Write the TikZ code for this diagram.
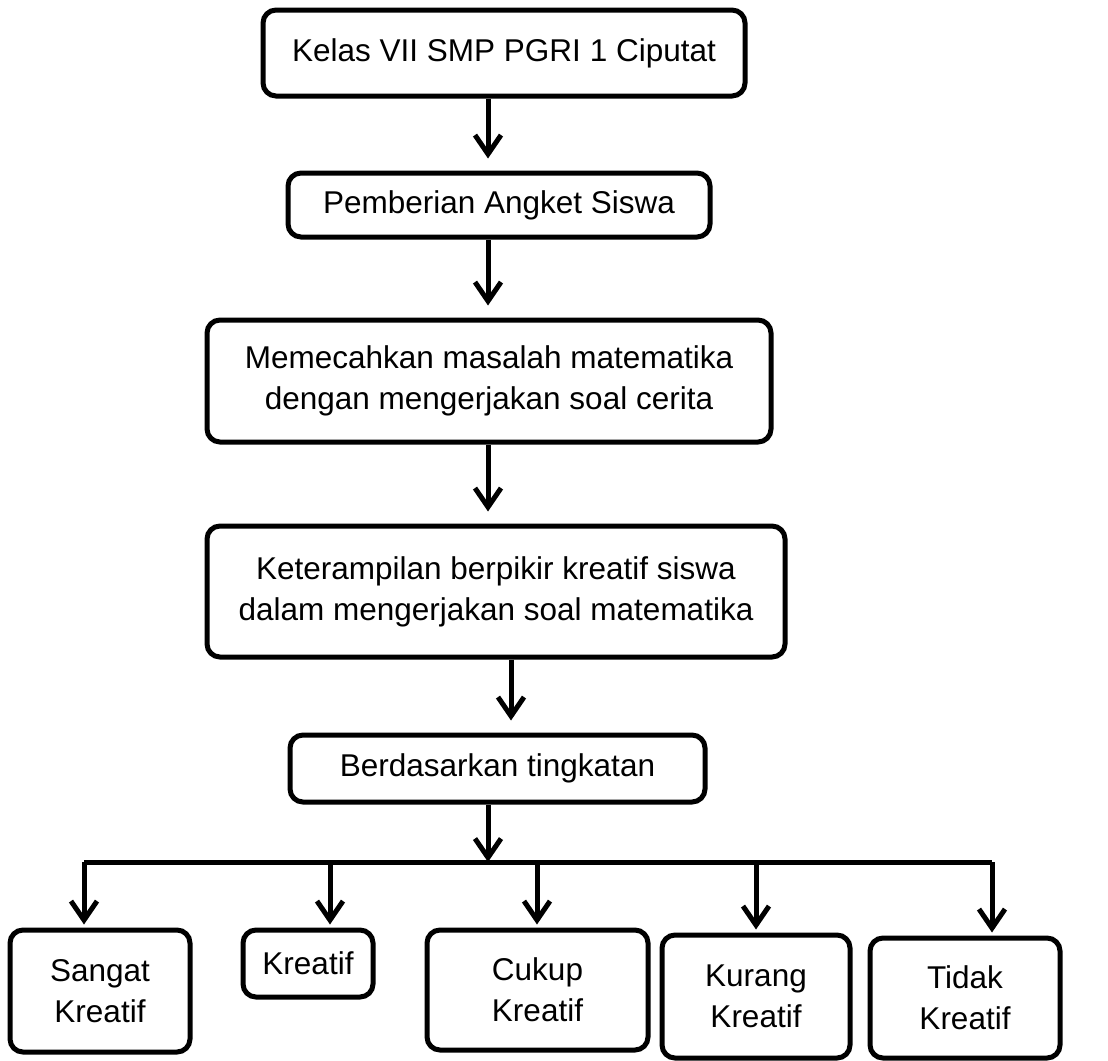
\documentclass[tikz,border=0pt]{standalone}
\usepackage{fontspec}
\setmainfont{Liberation Sans}
\usetikzlibrary{arrows.meta}
\begin{document}
\begin{tikzpicture}[x=1pt,y=-1pt,
  box/.style={draw, line width=5pt, rounded corners=13pt, align=center, inner sep=0pt,
    font=\fontsize{31.5}{41}\selectfont},
  arr/.style={line width=5pt, -{Straight Barb[length=19pt,width=26pt]}},
  barline/.style={line width=5pt}]
\useasboundingbox (0,0) rectangle (1108,1060);
\node[box, minimum width=482pt, minimum height=86pt] (n1) at (504,53) {Kelas VII SMP PGRI 1 Ciputat};
\node[box, minimum width=422pt, minimum height=64pt] (n2) at (499,205) {Pemberian Angket Siswa};
\node[box, minimum width=564pt, minimum height=122pt] (n3) at (489,381) {Memecahkan masalah matematika\\dengan mengerjakan soal cerita};
\node[box, minimum width=578pt, minimum height=131pt] (n4) at (496,591.5) {Keterampilan berpikir kreatif siswa\\dalam mengerjakan soal matematika};
\node[box, minimum width=415pt, minimum height=67pt] (n5) at (497.5,768.5) {Berdasarkan tingkatan};
\node[box, minimum width=180pt, minimum height=122pt] (s1) at (100,991) {Sangat\\Kreatif};
\node[box, minimum width=130pt, minimum height=67pt] (s2) at (308,963.5) {Kreatif};
\node[box, minimum width=221pt, minimum height=120pt] (s3) at (537.5,990) {Cukup\\Kreatif};
\node[box, minimum width=188pt, minimum height=123pt] (s4) at (756,996.5) {Kurang\\Kreatif};
\node[box, minimum width=190pt, minimum height=120pt] (s5) at (965,998) {Tidak\\Kreatif};
\coordinate (cA) at (488,0);
\coordinate (cB) at (511,0);
\draw[arr, shorten >=12pt] (n1.south -| cA) -- (n2.north -| cA);
\draw[arr, shorten >=12pt] (n2.south -| cA) -- (n3.north -| cA);
\draw[arr, shorten >=12pt] (n3.south -| cA) -- (n4.north -| cA);
\draw[arr, shorten >=12pt] (n4.south -| cB) -- (n5.north -| cB);
\coordinate (bj) at (488,862);
\coordinate (bl) at (84,862);
\coordinate (br) at (992,862);
\coordinate (d2) at (330,862);
\coordinate (d3) at (537,862);
\coordinate (d4) at (756,862);
\draw[arr] (n5.south -| cA) -- (bj);
\draw[barline] (bl) -- (br);
\draw[arr, shorten >=3pt] (bl) -- (bl |- s1.north);
\draw[arr, shorten >=3pt] (d2) -- (d2 |- s2.north);
\draw[arr, shorten >=3pt] (d3) -- (d3 |- s3.north);
\draw[arr, shorten >=3pt] (d4) -- (d4 |- s4.north);
\draw[arr, shorten >=3pt] (br) -- (br |- s5.north);
\end{tikzpicture}
\end{document}
